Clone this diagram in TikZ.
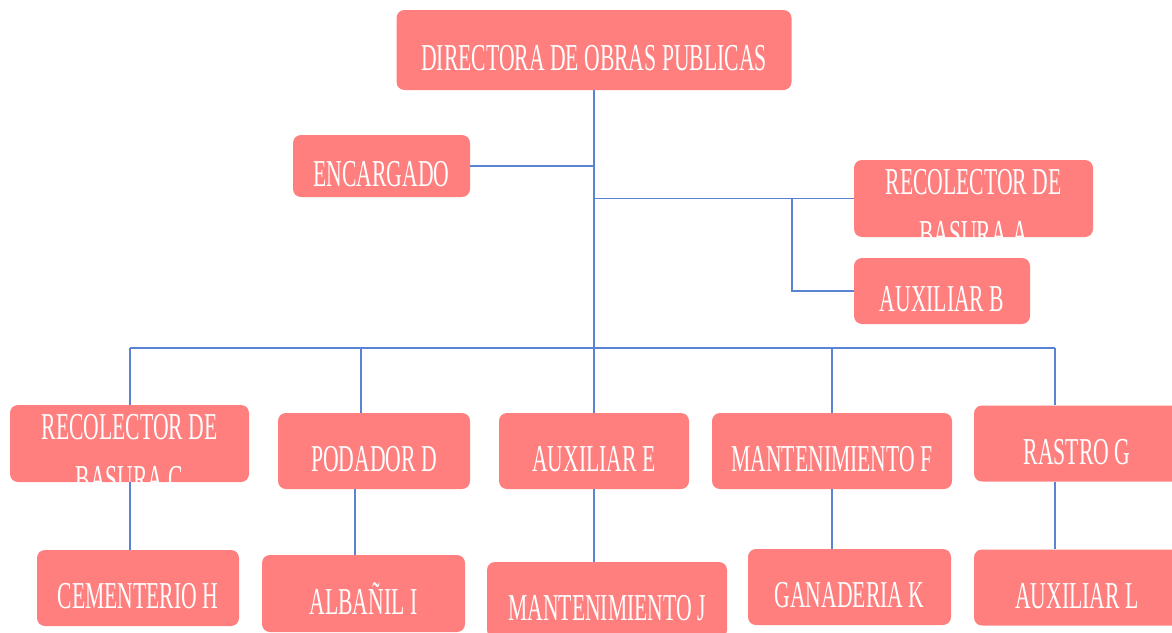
\documentclass[tikz,border=0pt]{standalone}
\usepackage{fontspec}
\setmainfont{Liberation Serif}[FakeStretch=0.57]
\definecolor{boxred}{RGB}{255,127,127}
\definecolor{linkblue}{RGB}{91,131,211}
\tikzset{
  box/.style={fill=boxred, rounded corners=8pt, text=white, align=center,
    font=\fontsize{38}{52}\selectfont, inner sep=0pt,
    text height=41pt, text depth=0pt},
  twoline/.style={text height=95pt, text depth=0pt, inner ysep=-10pt},
  link/.style={draw=linkblue, line width=1.5pt}
}
\begin{document}
\begin{tikzpicture}[x=1pt,y=-1pt]
  \useasboundingbox (0,0) rectangle (1172,632);
  \clip (0,0) rectangle (1172,632);
  % top
  \node[box, minimum width=395pt, minimum height=80pt] (dir) at (594,50) {DIRECTORA DE OBRAS PUBLICAS};
  \node[box, minimum width=177pt, minimum height=62pt] (enc) at (381.5,166) {ENCARGADO};
  \node[box, twoline, minimum width=239pt, minimum height=77pt] (recA) at (973.5,198.5) {RECOLECTOR DE\\BASURA A};
  \node[box, minimum width=176pt, minimum height=66pt] (auxB) at (942,291) {AUXILIAR B};
  % middle row
  \node[box, twoline, minimum width=239pt, minimum height=77pt] (recC) at (129.5,443.5) {RECOLECTOR DE\\BASURA C};
  \node[box, minimum width=192pt, minimum height=76pt] (podD) at (374,451) {PODADOR D};
  \node[box, minimum width=190pt, minimum height=76pt] (auxE) at (594,451) {AUXILIAR E};
  \node[box, minimum width=240pt, minimum height=76pt] (mantF) at (832,451) {MANTENIMIENTO F};
  \node[box, minimum width=206pt, minimum height=76pt] (rasG) at (1077,443.5) {RASTRO G};
  % bottom row
  \node[box, minimum width=202pt, minimum height=76pt] (cemH) at (138,588) {CEMENTERIO H};
  \node[box, minimum width=203pt, minimum height=77pt] (albI) at (363.5,593.5) {ALBAÑIL I};
  \node[box, minimum width=240pt, minimum height=76pt] (mantJ) at (607,600) {MANTENIMIENTO J};
  \node[box, minimum width=203pt, minimum height=76pt] (ganK) at (849.5,587) {GANADERIA K};
  \node[box, minimum width=206pt, minimum height=76pt] (auxL) at (1077,587.5) {AUXILIAR L};
  % connectors
  \coordinate (bus) at (594,348);
  \draw[link] (dir.south) -- (auxE.north);
  \draw[link] (enc.east) -- (enc.east -| dir.south);
  \draw[link] (recA.west -| dir.south) -- (recA.west);
  \draw[link] (recA.west -| 792,0) |- (auxB.west);
  \draw[link] (bus -| 130,0) -- (bus -| 1055,0);
  \draw[link] (bus -| 130,0) -- (recC.north -| 130,0);
  \draw[link] (bus -| 361,0) -- (podD.north -| 361,0);
  \draw[link] (bus -| mantF.north) -- (mantF.north);
  \draw[link] (bus -| 1055,0) -- (rasG.north -| 1055,0);
  \draw[link] (recC.south -| 130,0) -- (cemH.north -| 130,0);
  \draw[link] (podD.south -| 355,0) -- (albI.north -| 355,0);
  \draw[link] (auxE.south) -- (mantJ.north -| auxE.south);
  \draw[link] (mantF.south) -- (ganK.north -| mantF.south);
  \draw[link] (rasG.south -| 1055,0) -- (auxL.north -| 1055,0);
\end{tikzpicture}
\end{document}
